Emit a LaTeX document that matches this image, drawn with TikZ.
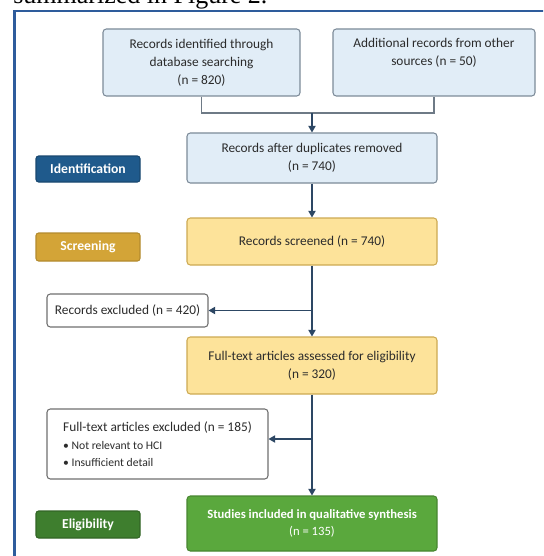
\documentclass[tikz,border=0pt]{standalone}
\usepackage{fontspec}
\setmainfont{Carlito}
\newfontfamily\bodyserif{Liberation Serif}
\usepackage{xcolor}
\usepackage{tikz}
\usetikzlibrary{arrows.meta}

\definecolor{frameblue}{HTML}{2E5C9C}
\definecolor{idfill}{HTML}{E1EDF7}
\definecolor{idline}{HTML}{7D8B99}
\definecolor{idtag}{HTML}{1F5A8C}
\definecolor{scfill}{HTML}{FDE39A}
\definecolor{scline}{HTML}{CDAA52}
\definecolor{sctag}{HTML}{D3A437}
\definecolor{eltag}{HTML}{3E7E2E}
\definecolor{elfill}{HTML}{5AA83D}
\definecolor{flowcol}{HTML}{2D4764}
\definecolor{linkcol}{HTML}{6E7A86}
\definecolor{exline}{HTML}{6F6F6F}
\definecolor{boxtext}{HTML}{2B2B2B}

\begin{document}
\begin{tikzpicture}[x=0.75pt,y=-0.75pt,
  font=\fontsize{10}{13.5}\selectfont,
  box/.style={draw, rounded corners=2.5pt, line width=0.8pt, align=center, inner sep=0pt, text=boxtext},
  idbox/.style={box, fill=idfill, draw=idline},
  scbox/.style={box, fill=scfill, draw=scline},
  exbox/.style={box, fill=white, draw=exline},
  tag/.style={draw, rounded corners=2pt, line width=0.8pt, text=white, minimum width=78pt,
    font=\fontsize{10.25}{12}\selectfont\bfseries},
  link/.style={linkcol, line width=1pt},
  flow/.style={flowcol, line width=1pt, -{Triangle[length=5pt,width=5.5pt]}}]
  \useasboundingbox (0,0) rectangle (543,556);
  \clip (0,0) rectangle (543,556);
  \fill[white] (0,0) rectangle (543,556);
  % text of the page above the figure
  \node[anchor=base west, inner sep=0pt, font=\bodyserif\fontsize{19.5}{20}\selectfont] (caption) at (13,4) {summarized in Figure 2.};
  \draw[frameblue, line width=1.6pt] (14.5,11) rectangle (600,600);

  % identification
  \node[idbox, minimum width=147.75pt, minimum height=50.25pt] (search) at (201.5,62.5) {Records identified through\\database searching\\(n = 820)};
  \node[idbox, minimum width=151.5pt, minimum height=50.25pt, text depth=16pt] (other) at (434,62.5) {Additional records from other\\sources (n = 50)};
  \node[idbox, minimum width=187.5pt, minimum height=37.5pt] (dedup) at (312,158) {Records after duplicates removed\\(n = 740)};
  \node[tag, fill=idtag, draw=idtag!80!black, minimum height=19.5pt] (identification) at (88,169) {Identification};

  % screening
  \node[scbox, minimum width=187.5pt, minimum height=35.25pt] (screen) at (312,241.5) {Records screened (n = 740)};
  \node[tag, fill=sctag, draw=sctag!85!black, minimum height=21pt] (screening) at (88,247) {Screening};
  \node[exbox, minimum width=120.75pt, minimum height=24.75pt] (excl) at (127.5,310.5) {Records excluded (n = 420)};
  \node[scbox, minimum width=187.5pt, minimum height=42.75pt] (full) at (312,365.5) {Full-text articles assessed for eligibility\\(n = 320)};
  \node[exbox, minimum width=165.75pt, minimum height=52.5pt, align=left] (fullex) at (157.5,444)
    {Full-text articles excluded (n = 185)\\[0.5pt]
     {\fontsize{8.75}{12.75}\selectfont • Not relevant to HCI}\\[-1pt]
     {\fontsize{8.75}{12.75}\selectfont • Insufficient detail}};

  % eligibility
  \node[box, fill=elfill, draw=elfill!80!black, text=white, minimum width=187.5pt, minimum height=41.25pt,
    font=\fontsize{9.5}{13}\selectfont] (incl) at (312,523.5) {\bfseries Studies included in qualitative synthesis\\(n = 135)};
  \node[tag, fill=eltag, draw=eltag!80!black, minimum height=20.25pt] (eligibility) at (88,524.5) {Eligibility};

  % connectors
  \coordinate (merge) at (312,113);
  \coordinate (split) at (312,439);
  \draw[link] (search.south) |- (merge) -| (other.south);
  \draw[flow] (merge) -- (dedup.north);
  \draw[flow] (dedup.south) -- (screen.north);
  \draw[flow] (screen.south) -- (full.north);
  \draw[flow] (screen.south |- excl.east) -- (excl.east);
  \draw[flow] (full.south) -- (incl.north);
  \draw[flow] (split) -- (split -| fullex.east);
\end{tikzpicture}
\end{document}
